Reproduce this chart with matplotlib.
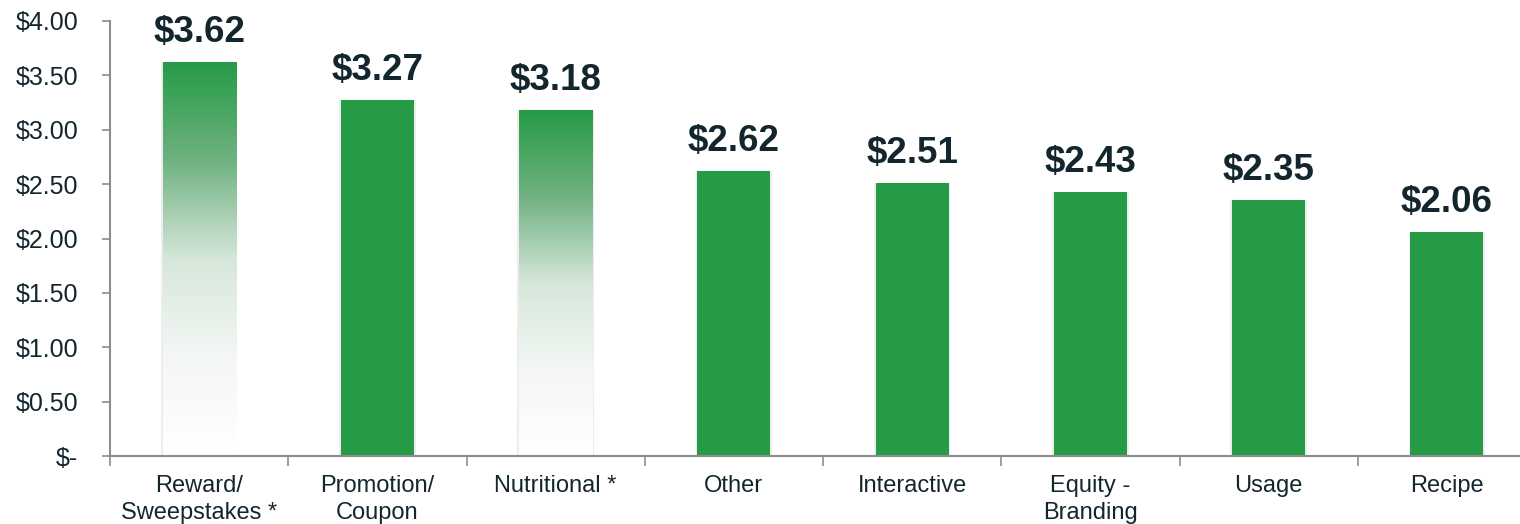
import numpy as np
import matplotlib.pyplot as plt
from matplotlib.colors import LinearSegmentedColormap

categories = ["Reward/\nSweepstakes *", "Promotion/\nCoupon", "Nutritional *", "Other",
              "Interactive", "Equity -\nBranding", "Usage", "Recipe"]
values = [3.62, 3.27, 3.18, 2.62, 2.51, 2.43, 2.35, 2.06]
gradient_bars = [True, False, True, False, False, False, False, False]
yticks = [0, 0.5, 1.0, 1.5, 2.0, 2.5, 3.0, 3.5, 4.0]
ylabels = ["$-", "$0.50", "$1.00", "$1.50", "$2.00", "$2.50", "$3.00", "$3.50", "$4.00"]

green = "#259b45"
txt = "#13262e"
plt.rcParams['font.family'] = ['Liberation Sans', 'DejaVu Sans']

fig = plt.figure(figsize=(15.2, 5.24), dpi=100)
ax = fig.add_axes([110 / 1520, 1 - 456 / 524, 1426 / 1520, 435 / 524])

x = np.arange(len(values))
w = 0.41
cmap = LinearSegmentedColormap.from_list("fade", ["#ffffff", "#f4f7f5", "#d6e7da", "#70b282", green])
grad = np.linspace(0, 1, 256).reshape(-1, 1)

for xi, v, g in zip(x, values, gradient_bars):
    # soft shadow
    ax.bar(xi, v, w + 0.02, color="#000000", alpha=0.07, zorder=1)
    if g:
        bar = ax.bar(xi, v, w, color="none", zorder=2)[0]
        im = ax.imshow(grad, cmap=cmap, aspect="auto", origin="lower",
                       extent=[xi - w / 2, xi + w / 2, 0, v], zorder=2)
        im.set_clip_path(bar)
    else:
        ax.bar(xi, v, w, color=green, zorder=2)
    ax.text(xi, v + 0.11, f"${v:.2f}", ha="center", va="bottom",
            fontsize=26.5, fontweight="bold", color=txt)

ax.set_xlim(-0.5, len(values) - 0.5)
ax.set_ylim(0, 4.0)
ax.set_yticks(yticks)
ax.set_yticklabels(ylabels, fontsize=18, color=txt)
ax.set_xticks(x)
ax.set_xticklabels(categories, fontsize=17, color=txt, linespacing=1.25)
ax.set_xticks(np.arange(len(values) + 1) - 0.5, minor=True)
ax.tick_params(axis="x", which="major", length=0, pad=14)
ax.tick_params(axis="x", which="minor", length=7, color="#8c8c8c", width=1.2, direction="out")
ax.tick_params(axis="y", length=6, color="#8c8c8c", width=1.2, pad=17)

for s in ["top", "right"]:
    ax.spines[s].set_visible(False)
for s in ["left", "bottom"]:
    ax.spines[s].set_color("#8c8c8c")
    ax.spines[s].set_linewidth(1.5)

fig.savefig("out.png", dpi=100)
